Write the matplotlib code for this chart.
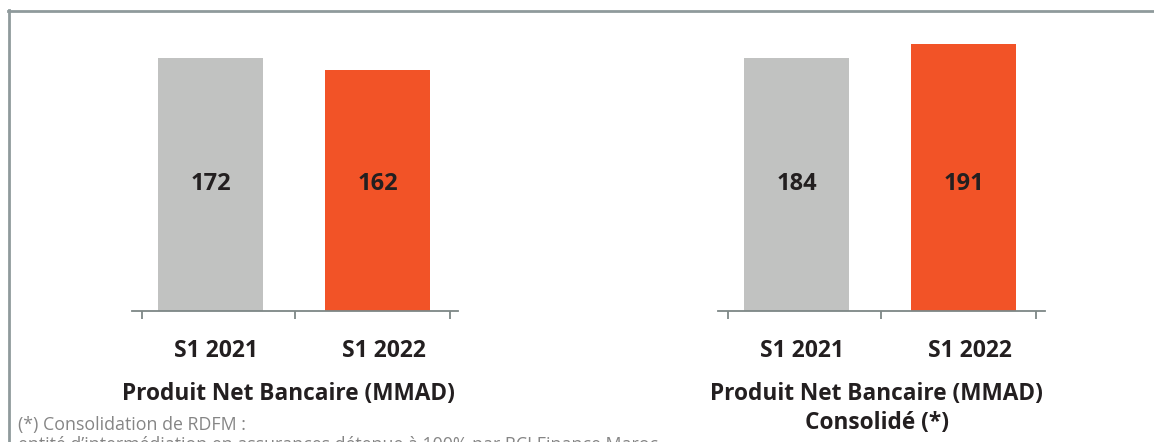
import matplotlib
matplotlib.use("Agg")
import matplotlib.pyplot as plt
from matplotlib.lines import Line2D

categories = ["S1 2021", "S1 2022"]
pnb_values = [172, 162]
pnb_conso_values = [184, 191]
titles = ["Produit Net Bancaire (MMAD)", "Produit Net Bancaire (MMAD)\nConsolidé (*)"]
footnote = "(*) Consolidation de RDFM :\nentité d’intermédiation en assurances détenue à 100% par RCI Finance Maroc"

bar_colors = ["#c1c2c1", "#f25327"]
text_color = "#231f20"
axis_color = "#7d8786"
frame_color = "#8f9a9c"
FONT = ["Open Sans", "DejaVu Sans"]

W, H = 1154, 442
fig = plt.figure(figsize=(W / 100, H / 100), dpi=100)

def px_axes(x0, x1, ytop, ybot):
    return fig.add_axes([x0 / W, 1 - ybot / H, (x1 - x0) / W, (ybot - ytop) / H])

def draw(ax, values, ylim, xlim, title, title_y, title_x):
    base = ylim[0]
    x = list(range(len(values)))
    ax.bar(x, [v - base for v in values], bottom=base, width=0.629,
           color=bar_colors, zorder=1)
    for xi, v in zip(x, values):
        ax.text(xi, base + (ylim[1] - base) * 0.435, str(v), ha="center", va="center",
                fontsize=17, fontweight="bold", color=text_color, family=FONT)
    ax.set_xlim(*xlim)
    ax.set_ylim(*ylim)
    for s in ["top", "right", "left"]:
        ax.spines[s].set_visible(False)
    ax.spines["bottom"].set_color(axis_color)
    ax.spines["bottom"].set_linewidth(1.3)
    ax.spines["bottom"].set_zorder(3)
    ax.set_yticks([])
    ax.set_xticks([0.03, 1.04])
    ax.set_xticklabels(categories, fontsize=16.5, fontweight="bold",
                       color=text_color, family=FONT)
    ax.tick_params(axis="x", which="major", length=0, pad=20)
    ax.set_xticks([-0.41, 0.506, 1.434], minor=True)
    ax.tick_params(axis="x", which="minor", length=6, width=1.3, color=axis_color)
    ax.text(title_x, title_y, title, transform=ax.transAxes, ha="center", va="top",
            fontsize=16.3, fontweight="bold", color=text_color, family=FONT,
            linespacing=1.28)

ax1 = px_axes(132, 458, 20, 311)
draw(ax1, pnb_values, (-38.83, 203.67), (-0.47, 1.482), titles[0], -0.245, 0.48)

ax2 = px_axes(718, 1045, 20, 311)
draw(ax2, pnb_conso_values, (57.5, 203.0), (-0.47, 1.488), titles[1], -0.245, 0.485)

fig.text(18 / W, 1 - 416 / H, footnote, ha="left", va="top", fontsize=12.8,
         color="#858585", family=FONT, linespacing=1.15)

fig.add_artist(Line2D([8 / W, 1], [1 - 10.5 / H, 1 - 10.5 / H], color=frame_color, lw=2))
fig.add_artist(Line2D([8.5 / W, 8.5 / W], [0, 1 - 10 / H], color=frame_color, lw=2))

fig.savefig("out.png", dpi=100)
